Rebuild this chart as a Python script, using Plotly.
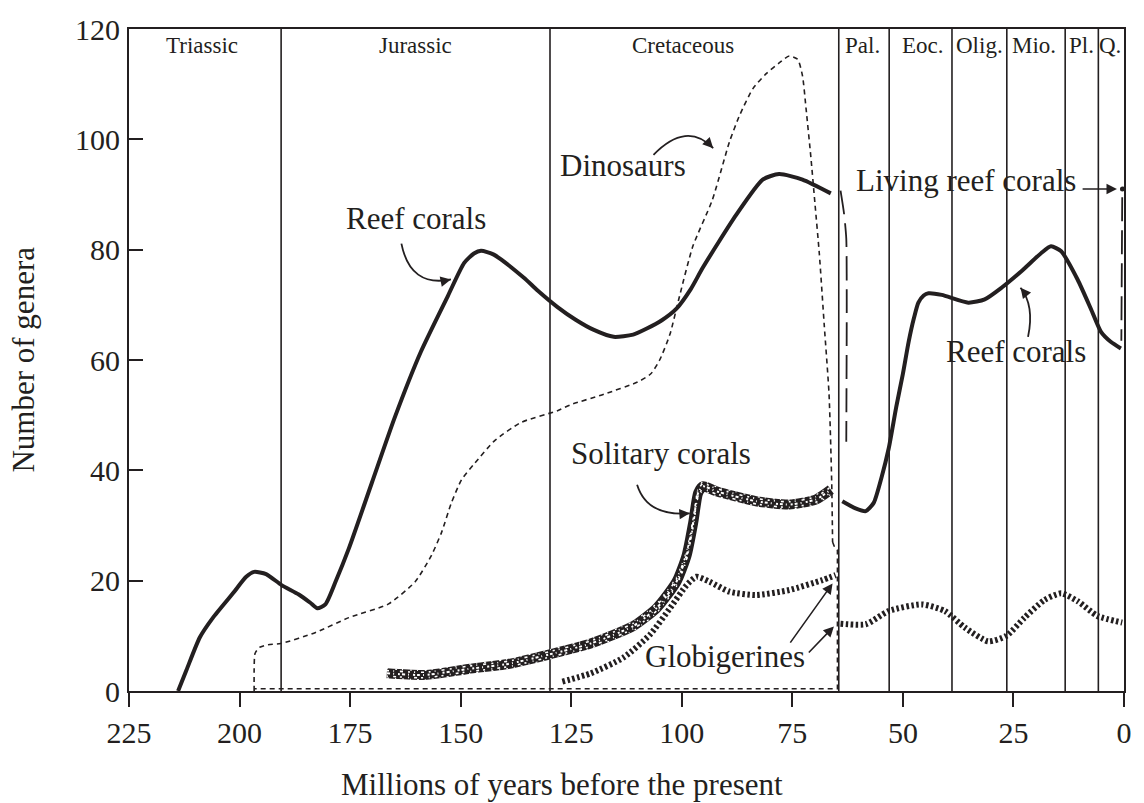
import plotly.graph_objects as go

FONT = "Liberation Serif, Times New Roman, serif"
INK = "#231f20"

# Geological period boundaries (millions of years ago) and labels
period_bounds = [190.6, 129.8, 64.5, 53.1, 38.9, 26.5, 13.3, 5.8]
period_names = ["Triassic", "Jurassic", "Cretaceous", "Pal.", "Eoc.", "Olig.", "Mio.", "Pl.", "Q."]
period_label_x = [208.6, 160.3, 99.7, 59.1, 45.4, 32.7, 20.3, 9.7, 3.1]

# Reef corals, Mesozoic
reef_meso_age = [213.9, 212.0, 209.0, 206.0, 201.5, 198.5, 196.7, 194.0, 190.5, 186.6, 184.0,
                 182.4, 180.6, 178.3, 175.3, 170.1, 164.9, 159.0, 152.9, 149.2, 147.0, 145.4,
                 142.5, 135.7, 132.6, 128.1, 124.0, 120.0, 115.4, 111.0, 107.9, 104.5, 101.2,
                 98.0, 95.2, 87.7, 81.7, 78.0, 72.7, 66.3]
reef_meso_n = [0.0, 3.8, 9.7, 13.3, 17.7, 20.7, 21.6, 21.2, 19.2, 17.5, 16.0,
               15.0, 15.7, 19.8, 25.8, 37.7, 49.6, 61.5, 71.6, 77.6, 79.3, 79.8,
               79.1, 74.9, 72.6, 69.6, 67.3, 65.5, 64.2, 64.6, 65.7, 67.2, 69.3,
               72.8, 76.8, 86.3, 92.7, 93.7, 92.7, 90.2]

# Reef corals, Cenozoic
reef_ceno_age = [63.7, 60.7, 58.4, 56.6, 54.8, 53.2, 51.5, 50.0, 48.7, 47.5, 46.5, 45.3,
                 44.2, 41.2, 35.2, 31.5, 27.7, 23.2, 18.7, 16.5, 14.2, 10.5, 7.5, 5.2, 3.0, 0.7]
reef_ceno_n = [34.4, 33.1, 32.6, 34.1, 38.8, 44.0, 51.5, 57.5, 63.3, 67.6, 70.4, 71.7,
               72.1, 71.8, 70.4, 71.0, 73.1, 76.1, 79.4, 80.6, 79.7, 74.6, 69.3, 65.1, 63.3, 62.1]

# Living reef corals (dashed connectors)
living_left_age = [64.1, 63.3, 62.8, 62.7, 62.8]
living_left_n = [90.7, 86.5, 82.0, 70.0, 45.2]
living_right_age = [0.4, 0.6]
living_right_n = [89.5, 63.5]
living_today_age = [0.35]
living_today_n = [91.0]

# Dinosaurs
dino_age = [196.7, 196.7, 196.5, 195.5, 193.5, 190.7, 182.8, 175.3, 166.3, 160.3, 156.6,
            154.3, 152.1, 149.8, 146.8, 142.3, 136.3, 128.1, 125.1, 117.6, 110.0, 107.0,
            105.0, 102.7, 100.5, 97.5, 93.1, 89.2, 86.9, 83.9, 80.9, 77.9, 75.7, 73.8,
            72.7, 71.9, 70.8, 69.9, 68.9, 67.8, 66.7, 66.1, 65.9]
dino_n = [0.0, 4.0, 6.8, 7.9, 8.4, 8.6, 10.6, 13.3, 15.8, 19.8, 24.6,
          28.8, 34.1, 38.3, 41.3, 45.4, 48.7, 50.8, 51.9, 53.8, 56.0, 57.5,
          60.0, 64.6, 71.6, 80.6, 89.0, 99.6, 104.4, 109.2, 111.9, 113.9, 115.1, 114.5,
          111.5, 105.6, 96.7, 88.5, 79.3, 66.5, 53.8, 37.9, 27.0]
dino_end_age = [65.9, 65.4, 64.8, 64.8, 196.7]
dino_end_n = [27.0, 26.0, 25.5, 0.4, 0.4]

# Solitary corals
solitary_age = [166.7, 158.1, 148.3, 139.3, 129.6, 120.6, 110.9, 105.6, 101.2, 98.9, 97.4,
                96.3, 95.2, 92.2, 83.2, 75.7, 69.7, 66.3]
solitary_n = [3.2, 2.9, 4.0, 4.9, 6.7, 8.6, 11.8, 15.1, 19.8, 24.6, 30.6,
              35.9, 37.1, 36.2, 34.4, 33.8, 34.7, 36.5]

# Globigerines
glob_meso_age = [127.0, 120.6, 113.1, 107.1, 102.6, 98.9, 96.7, 93.7, 89.2, 83.2, 75.7, 68.2, 65.2]
glob_meso_n = [1.7, 3.2, 6.1, 10.3, 15.1, 19.2, 20.7, 19.8, 18.0, 17.4, 18.3, 20.1, 21.0]
glob_ceno_age = [64.1, 58.4, 53.2, 45.7, 40.5, 36.0, 30.7, 26.6, 22.5, 18.0, 14.2, 10.5, 6.0, 0.4]
glob_ceno_n = [12.2, 12.1, 14.5, 15.7, 14.5, 11.5, 9.0, 10.0, 13.3, 16.5, 17.7, 16.3, 13.6, 12.4]

x_ticks = [225, 200, 175, 150, 125, 100, 75, 50, 25, 0]
y_ticks = [0, 20, 40, 60, 80, 100, 120]

fig = go.Figure()


def curve(x, y, width, dash="solid", shape="spline", color=INK, dy=0.0):
    fig.add_trace(go.Scatter(
        x=x, y=[v + dy for v in y], mode="lines", hoverinfo="skip", showlegend=False,
        line=dict(color=color, width=width, dash=dash, shape=shape, smoothing=0.6),
    ))


# dinosaurs
curve(dino_age, dino_n, 1.6, dash="5px,4px")
curve(dino_end_age, dino_end_n, 1.6, dash="5px,4px", shape="linear")

# solitary corals: speckled band (black band with scattered white flecks)
curve(solitary_age, solitary_n, 10)
curve(solitary_age, solitary_n, 1.6, dash="2px,4px,1px,6px,3px,5px", color="white", dy=0.5)
curve(solitary_age, solitary_n, 1.6, dash="1px,5px,3px,4px,2px,6px", color="white", dy=-0.5)
curve(solitary_age, solitary_n, 2.0, dash="3px,3px,1px,4px,2px,2px", color="white")
curve(solitary_age, solitary_n, 1.2, dash="1px,7px,2px,5px", color="white", dy=0.85)
curve(solitary_age, solitary_n, 1.2, dash="2px,6px,1px,6px", color="white", dy=-0.85)

# globigerines
curve(glob_meso_age, glob_meso_n, 6, dash="2.5px,2.5px")
curve(glob_ceno_age, glob_ceno_n, 6, dash="2.5px,2.5px")

# reef corals
curve(reef_meso_age, reef_meso_n, 4)
curve(reef_ceno_age, reef_ceno_n, 4)

# living reef corals
curve(living_left_age, living_left_n, 1.8, dash="24px,9px")
curve(living_right_age, living_right_n, 1.8, dash="24px,9px", shape="linear")
fig.add_trace(go.Scatter(x=living_today_age, y=living_today_n, mode="markers",
                         hoverinfo="skip", showlegend=False,
                         marker=dict(color=INK, size=5)))

shapes = []
for b in period_bounds:
    shapes.append(dict(type="line", xref="x", yref="paper", x0=b, x1=b, y0=0, y1=1,
                       line=dict(color=INK, width=1.6), layer="below"))

# curved pointer arrows (start, control, end)
curved = [
    ((163.4, 81.1), (161.4, 73.1), (152.2, 74.6)),
    ((106.4, 97.2), (98.9, 103.4), (92.9, 98.4)),
    ((110.1, 37.4), (107.9, 31.6), (98.2, 32.2)),
    ((21.7, 64.2), (20.2, 69.9), (23.4, 73.1)),
]
annotations = []
for (s, c, e) in curved:
    shapes.append(dict(type="path", xref="x", yref="y",
                       path=f"M {s[0]},{s[1]} Q {c[0]},{c[1]} {e[0]},{e[1]}",
                       line=dict(color=INK, width=1.8)))
    t = 0.25
    annotations.append(dict(x=e[0], y=e[1], ax=e[0] + t * (c[0] - e[0]), ay=e[1] + t * (c[1] - e[1]),
                            xref="x", yref="y", axref="x", ayref="y", text="", showarrow=True,
                            arrowhead=2, arrowsize=1.3, arrowwidth=1.6, arrowcolor=INK))

# straight pointer arrows (head, tail)
straight = [
    ((65.9, 19.5), (75.7, 8.5)),
    ((65.6, 11.7), (71.6, 6.7)),
    ((1.6, 91.0), (9.7, 91.0)),
]
for (h, tl) in straight:
    annotations.append(dict(x=h[0], y=h[1], ax=tl[0], ay=tl[1], xref="x", yref="y",
                            axref="x", ayref="y", text="", showarrow=True,
                            arrowhead=2, arrowsize=1.3, arrowwidth=1.6, arrowcolor=INK))

labels = [
    ("Reef corals", 160.0, 85.7),
    ("Dinosaurs", 113.4, 95.2),
    ("Solitary corals", 104.7, 43.0),
    ("Globigerines", 90.3, 6.2),
    ("Reef corals", 24.5, 61.5),
    ("Living reef corals", 35.7, 92.6),
]
for (txt, x, y) in labels:
    annotations.append(dict(x=x, y=y, xref="x", yref="y", text=txt, showarrow=False,
                            xanchor="center", yanchor="middle",
                            font=dict(family=FONT, size=31, color=INK)))

for name, x in zip(period_names, period_label_x):
    annotations.append(dict(x=x, y=117.0, xref="x", yref="y", text=name, showarrow=False,
                            xanchor="center", yanchor="middle",
                            font=dict(family=FONT, size=23, color=INK)))

# axis titles
annotations.append(dict(x=(565 - 129) / 1001, y=-0.1415, xref="paper", yref="paper",
                        text="Millions of years before the present", showarrow=False,
                        xanchor="center", yanchor="middle",
                        font=dict(family=FONT, size=31, color=INK)))
annotations.append(dict(x=-0.107, y=0.5, xref="paper", yref="paper", textangle=-90,
                        text="Number of genera", showarrow=False,
                        xanchor="center", yanchor="middle",
                        font=dict(family=FONT, size=31, color=INK)))

fig.update_layout(
    width=1144, height=803,
    margin=dict(l=129, r=14, t=19, b=112),
    paper_bgcolor="white", plot_bgcolor="white",
    font=dict(family=FONT, color=INK),
    shapes=shapes, annotations=annotations,
    xaxis=dict(range=[225, 0], tickvals=x_ticks, ticks="outside", ticklen=14, tickwidth=1.6,
               tickcolor=INK, showline=True, linecolor=INK, linewidth=1.8, mirror=True,
               showgrid=False, zeroline=False, tickfont=dict(family=FONT, size=30, color=INK),
               ticklabelstandoff=0),
    yaxis=dict(range=[0, 120], tickvals=y_ticks, ticks="inside", ticklen=14, tickwidth=1.6,
               tickcolor=INK, showline=True, linecolor=INK, linewidth=1.8, mirror=True,
               showgrid=False, zeroline=False, tickfont=dict(family=FONT, size=30, color=INK),
               ticklabelstandoff=1),
)

fig.write_html("out.html")
